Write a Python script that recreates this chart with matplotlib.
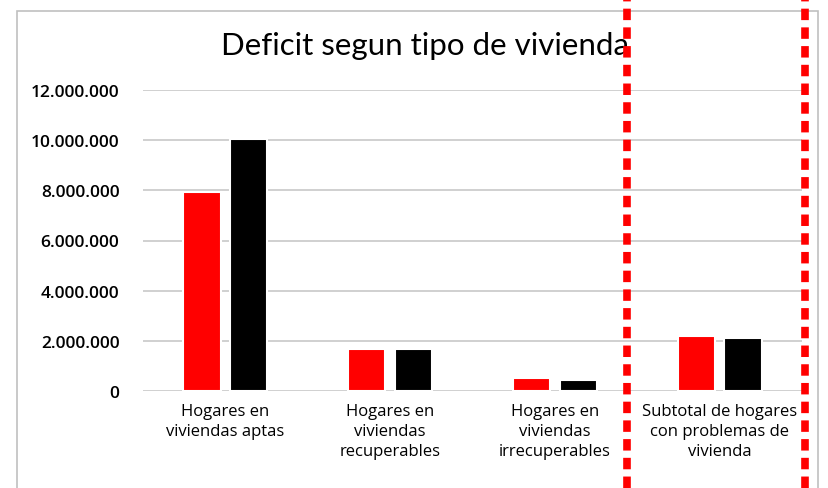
import matplotlib
matplotlib.use("Agg")
import matplotlib.pyplot as plt
from matplotlib.lines import Line2D
from matplotlib.patches import Rectangle
from matplotlib.ticker import FuncFormatter
import numpy as np

categories = ["Hogares en\nviviendas aptas",
              "Hogares en\nviviendas\nrecuperables",
              "Hogares en\nviviendas\nirrecuperables",
              "Subtotal de hogares\ncon problemas de\nvivienda"]
serie_roja = [7_930_000, 1_670_000, 520_000, 2_190_000]
serie_negra = [10_050_000, 1_670_000, 440_000, 2_110_000]
yticks = [0, 2_000_000, 4_000_000, 6_000_000, 8_000_000, 10_000_000, 12_000_000]

W, H = 829, 489
fig = plt.figure(figsize=(W / 100, H / 100), dpi=100)
ax = fig.add_axes([143 / W, 1 - 392 / H, (802 - 143) / W, (392 - 91) / H])

x = np.arange(len(categories))
w = 0.225
off = 0.142
ax.bar(x - off, serie_roja, w, color="#ff0000", edgecolor="white", linewidth=1.5, zorder=3)
ax.bar(x + off, serie_negra, w, color="#000000", edgecolor="white", linewidth=1.5, zorder=3)

ax.set_xlim(-0.5, len(categories) - 0.5)
ax.set_ylim(0, 12_000_000)
ax.set_yticks(yticks)
ax.yaxis.set_major_formatter(FuncFormatter(lambda v, p: f"{int(v):,}".replace(",", ".")))
ax.grid(True, axis="y", color="#c8c8c8", linewidth=1.2, zorder=0)
for s in ax.spines.values():
    s.set_visible(False)
ax.tick_params(axis="y", length=0, pad=17, labelsize=12.5)
for t in ax.get_yticklabels():
    t.set_fontfamily("Open Sans")
    t.set_fontweight("semibold")
ax.set_xticks(x)
ax.set_xticklabels(categories, fontfamily="Open Sans", fontsize=12, linespacing=1.3)
ax.tick_params(axis="x", length=0, pad=9)

fig.text(425 / W, 1 - 46 / H, "Deficit segun tipo de vivienda",
         ha="center", va="center", fontsize=22.5, family="Lato")

# chart frame
fig.add_artist(Rectangle((17 / W, -0.1), (818 - 17) / W, 1.1 - 12 / H,
                         transform=fig.transFigure, fill=False,
                         edgecolor="#c0c0c0", linewidth=1.2))

# red dotted separators
for px in (627, 805):
    fig.add_artist(Line2D([px / W, px / W], [0, 1], transform=fig.transFigure,
                          color="#ff0000", linewidth=5.5, dashes=(1.5, 0.95), zorder=10))

fig.savefig("out.png", dpi=100)
